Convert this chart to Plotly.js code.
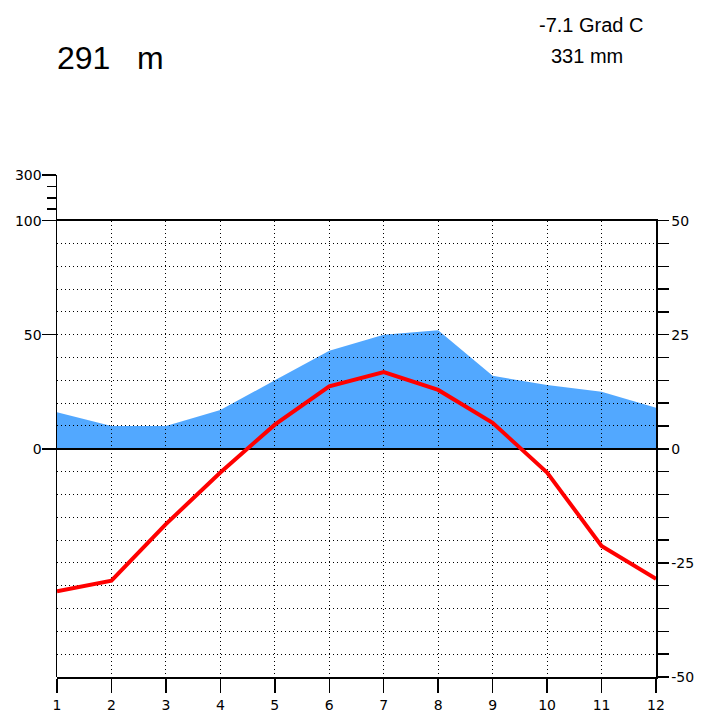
<!DOCTYPE html>
<html>
<head>
<meta charset="utf-8">
<script src="https://cdn.plot.ly/plotly-3.0.1.min.js"></script>
<style>html,body{margin:0;padding:0;background:#fff;}#chart{width:701px;height:712px;}</style>
</head>
<body>
<div id="chart"></div>
<script>
// ---- data ----
var months = [1, 2, 3, 4, 5, 6, 7, 8, 9, 10, 11, 12];
var precipitation = [16, 10, 10, 17, 30, 43, 50, 52, 32, 28, 25, 18];          // mm
var temperature = [-31.2, -28.9, -16.5, -5.2, 5.3, 13.7, 16.8, 12.9, 5.7, -5.2, -21.3, -28.5]; // Grad C

// ---- axis ticks ----
var precipTickVals = [0, 50, 100, 120];
var precipTickText = ['0', '50', '100', '300'];
var precipMinorTicks = [105, 110, 115];
var tempTickVals = [-50, -45, -40, -35, -30, -25, -20, -15, -10, -5, 0, 5, 10, 15, 20, 25, 30, 35, 40, 45, 50];
var tempTickText = ['-50', '', '', '', '', '-25', '', '', '', '', '0', '', '', '', '', '25', '', '', '', '', '50'];
var monthTickText = ['1', '2', '3', '4', '5', '6', '7', '8', '9', '10', '11', '12'];

var titleText = '291\u00a0\u00a0\u00a0m';
var meanTempText = '-7.1 Grad C';
var sumPrecipText = '331 mm';

var tickFont = {family: 'DejaVu Sans, sans-serif', size: 14, color: '#000'};
var textFont = 'Liberation Sans, Arial, Helvetica, sans-serif';
// translucent blue that reads as #52a8ff on white and lets the dotted grid show through
var precipFill = 'rgba(0,127,255,0.68)';

var traces = [
  {
    x: months, y: precipitation, xaxis: 'x', yaxis: 'y',
    type: 'scatter', mode: 'lines', fill: 'tozeroy',
    fillcolor: precipFill, line: {width: 0, color: precipFill},
    hoverinfo: 'skip'
  },
  {
    x: months, y: temperature, xaxis: 'x2', yaxis: 'y2',
    type: 'scatter', mode: 'lines',
    line: {width: 4, color: '#ff0000'},
    hoverinfo: 'skip'
  }
];

var layout = {
  width: 701, height: 712,
  margin: {l: 57, r: 45, t: 175, b: 35, pad: 0},
  paper_bgcolor: '#ffffff',
  plot_bgcolor: 'rgba(0,0,0,0)',
  showlegend: false,
  xaxis: {domain: [0, 1], range: [1, 12], visible: false, fixedrange: true},
  yaxis: {
    domain: [0, 1], range: [-100, 120], anchor: 'x', side: 'left',
    showline: true, linecolor: '#000', linewidth: 1.5,
    ticks: 'outside', ticklen: 14, tickwidth: 1.5, tickcolor: '#000', ticklabelstandoff: -3,
    tickmode: 'array', tickvals: precipTickVals, ticktext: precipTickText,
    tickfont: tickFont, showgrid: false, zeroline: false, fixedrange: true,
    minor: {tickmode: 'array', tickvals: precipMinorTicks, ticks: 'outside', ticklen: 9, tickwidth: 1.5, tickcolor: '#000', showgrid: false}
  },
  xaxis2: {
    domain: [0, 1], range: [1, 12], anchor: 'y2',
    tickmode: 'array', tickvals: months, ticktext: monthTickText,
    showline: true, mirror: true, linecolor: '#000', linewidth: 1.5,
    ticks: 'outside', ticklen: 14, tickwidth: 1.5, tickcolor: '#000',
    ticklabelstandoff: 1,
    showgrid: true, gridcolor: '#000', gridwidth: 1, griddash: '1px,3px',
    zeroline: false, tickfont: tickFont, fixedrange: true
  },
  yaxis2: {
    domain: [0, 100 / 110], range: [-50, 50], anchor: 'x2', side: 'right',
    tickmode: 'array', tickvals: tempTickVals, ticktext: tempTickText,
    showline: true, linecolor: '#000', linewidth: 1.5,
    ticks: 'outside', ticklen: 11, tickwidth: 1.5, tickcolor: '#000',
    showgrid: true, gridcolor: '#000', gridwidth: 1, griddash: '1px,3px',
    zeroline: true, zerolinecolor: '#000', zerolinewidth: 1.5,
    tickfont: tickFont, fixedrange: true
  },
  annotations: [
    {text: titleText, xref: 'paper', yref: 'paper', x: 0, y: 1.233, xanchor: 'left', yanchor: 'middle', xshift: -2,
     showarrow: false, font: {family: textFont, size: 32, color: '#000'}},
    {text: meanTempText, xref: 'paper', yref: 'paper', x: 0.8013, y: 1.299, xanchor: 'left', yanchor: 'middle',
     showarrow: false, font: {family: textFont, size: 20, color: '#000'}},
    {text: sumPrecipText, xref: 'paper', yref: 'paper', x: 0.8214, y: 1.237, xanchor: 'left', yanchor: 'middle',
     showarrow: false, font: {family: textFont, size: 20, color: '#000'}}
  ]
};

Plotly.newPlot('chart', traces, layout, {staticPlot: true, displayModeBar: false});
</script>
</body>
</html>
